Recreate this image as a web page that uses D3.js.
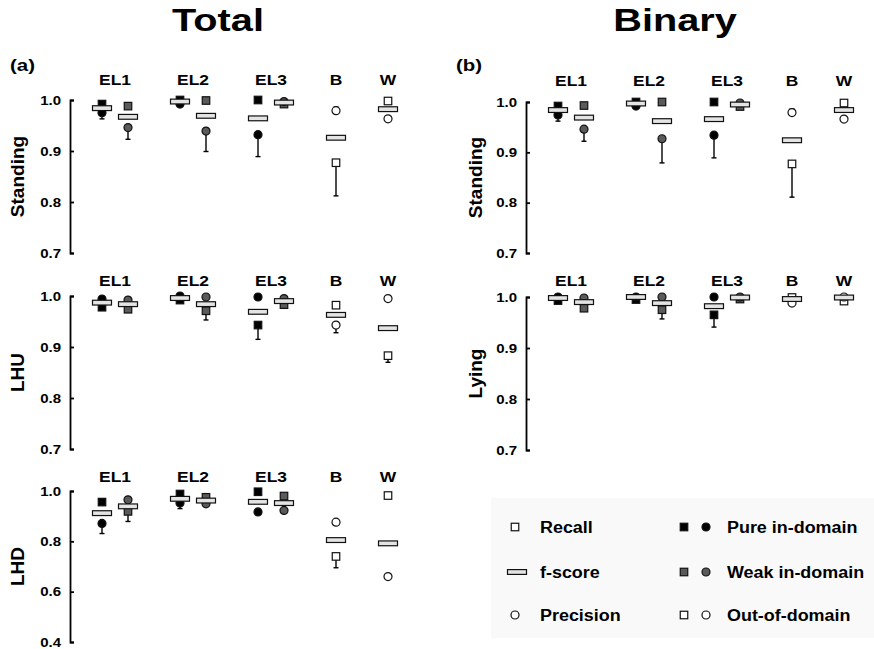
<!DOCTYPE html>
<html>
<head>
<meta charset="utf-8">
<script src="https://cdn.jsdelivr.net/npm/d3@7"></script>
<style>
  html, body { margin: 0; padding: 0; background: #fff; }
  svg { display: block; font-family: "Liberation Sans", Arial, sans-serif; font-weight: bold; }
</style>
</head>
<body>
<div id="chart"></div>
<script>
// ---------------- DATA ----------------
const panelTitles = ["Total", "Binary"];
const panelTags = ["(a)", "(b)"];
const rowLabelsTotal = ["Standing", "LHU", "LHD"];
const rowLabelsBinary = ["Standing", "Lying"];
const columnGroups = ["EL1", "EL1", "EL2", "EL2", "EL3", "EL3", "B", "W"];
const columnDomains = ["Pure in-domain", "Weak in-domain", "Pure in-domain", "Weak in-domain",
                       "Pure in-domain", "Weak in-domain", "Out-of-domain", "Out-of-domain"];
const ticksFine = [0.7, 0.8, 0.9, 1.0];
const ticksLHD = [0.4, 0.6, 0.8, 1.0];

// Total - Standing
const totStandRecall    = [0.992, 0.988, 1.000, 0.999, 1.000, 0.992, 0.877, 0.998];
const totStandFscore    = [0.984, 0.967, 0.997, 0.969, 0.964, 0.995, 0.926, 0.982];
const totStandPrecision = [0.975, 0.946, 0.992, 0.939, 0.932, 0.997, 0.979, 0.963];
const totStandErrLow    = [0.963, 0.923, null, 0.899, 0.889, null, 0.812, null];
const totStandErrHigh   = [null, null, null, null, null, null, 0.986, null];
// Total - LHU
const totLHURecall    = [0.978, 0.974, 0.992, 0.971, 0.943, 0.983, 0.982, 0.883];
const totLHUFscore    = [0.987, 0.984, 0.996, 0.984, 0.969, 0.990, 0.963, 0.937];
const totLHUPrecision = [0.994, 0.992, 1.000, 0.998, 0.998, 0.995, 0.943, 0.995];
const totLHUErrLow    = [null, null, null, 0.953, 0.915, null, 0.928, 0.870];
// Total - LHD
const totLHDRecall    = [0.956, 0.919, 0.988, 0.975, 0.997, 0.980, 0.740, 0.982];
const totLHDFscore    = [0.912, 0.939, 0.969, 0.962, 0.957, 0.952, 0.805, 0.792];
const totLHDPrecision = [0.871, 0.965, 0.952, 0.949, 0.917, 0.923, 0.876, 0.660];
const totLHDErrLow    = [0.831, 0.879, 0.930, null, null, null, 0.695, null];
// Binary - Standing
const binStandRecall    = [0.992, 0.993, 1.000, 1.000, 1.000, 0.991, 0.877, 0.998];
const binStandFscore    = [0.984, 0.969, 0.997, 0.962, 0.966, 0.995, 0.924, 0.984];
const binStandPrecision = [0.974, 0.946, 0.992, 0.927, 0.934, 0.998, 0.979, 0.966];
const binStandErrLow    = [0.962, 0.922, null, 0.879, 0.889, null, 0.811, null];
const binStandErrHigh   = [null, null, null, null, null, null, 0.986, null];
// Binary - Lying
const binLyingRecall    = [0.993, 0.978, 0.995, 0.975, 0.965, 0.996, 0.999, 0.992];
const binLyingFscore    = [0.998, 0.990, 1.000, 0.988, 0.982, 0.999, 0.996, 0.999];
const binLyingPrecision = [1.000, 0.998, 1.000, 1.000, 1.000, 1.000, 0.988, 1.000];
const binLyingErrLow    = [null, null, null, 0.957, 0.941, null, null, null];

const legendMetrics = ["Recall", "f-score", "Precision"];
const legendDomains = ["Pure in-domain", "Weak in-domain", "Out-of-domain"];

// ---------------- LAYOUT / STYLE ----------------
const W = 874, H = 649;
const STRETCH = 1.2;
const domainFill = { "Pure in-domain": "#000000", "Weak in-domain": "#5a5a5a", "Out-of-domain": "#ffffff" };
const groupBase = { EL1: 0, EL2: 3, EL3: 6, B: 9, W: 11 };
const slotCount = {};
const columnSlots = columnGroups.map(g => { const k = slotCount[g] || 0; slotCount[g] = k + 1; return groupBase[g] + k; });

const xA = d3.scaleLinear().domain([0, 11]).range([102, 388]);
const xB = d3.scaleLinear().domain([0, 11]).range([558, 844]);

function series(r, f, p, lo, hi) {
  return columnGroups.map((g, i) => ({
    group: g, domain: columnDomains[i], slot: columnSlots[i],
    recall: r[i], fscore: f[i], precision: p[i],
    errLow: lo ? lo[i] : null, errHigh: hi ? hi[i] : null
  }));
}

const subplots = [
  { x: xA, axisX: 70, range: [253, 100], domain: [0.7, 1.0], ticks: ticksFine, label: rowLabelsTotal[0], labelX: 24, groupBase: 85,
    data: series(totStandRecall, totStandFscore, totStandPrecision, totStandErrLow, totStandErrHigh) },
  { x: xA, axisX: 70, range: [449, 296], domain: [0.7, 1.0], ticks: ticksFine, label: rowLabelsTotal[1], labelX: 24, groupBase: 286,
    data: series(totLHURecall, totLHUFscore, totLHUPrecision, totLHUErrLow) },
  { x: xA, axisX: 70, range: [642, 491], domain: [0.4, 1.0], ticks: ticksLHD, label: rowLabelsTotal[2], labelX: 24, groupBase: 482,
    data: series(totLHDRecall, totLHDFscore, totLHDPrecision, totLHDErrLow) },
  { x: xB, axisX: 526, range: [253, 102], domain: [0.7, 1.0], ticks: ticksFine, label: rowLabelsBinary[0], labelX: 482, groupBase: 86,
    data: series(binStandRecall, binStandFscore, binStandPrecision, binStandErrLow, binStandErrHigh) },
  { x: xB, axisX: 526, range: [450, 297], domain: [0.7, 1.0], ticks: ticksFine, label: rowLabelsBinary[1], labelX: 482, groupBase: 286,
    data: series(binLyingRecall, binLyingFscore, binLyingPrecision, binLyingErrLow) }
];

const svg = d3.select("#chart").append("svg").attr("width", W).attr("height", H);

function stretch(sel, k) {
  sel.each(function () {
    const w = this.getComputedTextLength();
    d3.select(this).attr("textLength", w * k).attr("lengthAdjust", "spacingAndGlyphs");
  });
}

// legend background
svg.append("rect").attr("x", 491).attr("y", 498).attr("width", 383).attr("height", 140).attr("fill", "#f9f9f9");

// panel titles and tags
const titles = svg.selectAll("text.title").data(panelTitles).join("text")
  .attr("class", "title").attr("x", (d, i) => [218, 675][i]).attr("y", 31)
  .attr("text-anchor", "middle").attr("font-size", 32).attr("fill", "#000").text(d => d);
stretch(titles, 1.24);
const tags = svg.selectAll("text.tag").data(panelTags).join("text")
  .attr("class", "tag").attr("x", (d, i) => [10, 456][i]).attr("y", 71)
  .attr("font-size", 17).attr("fill", "#000").text(d => d);
stretch(tags, STRETCH);

const BAR_W = 19, BAR_H = 4.8, SQ = 7.5, CR = 4;

subplots.forEach(sp => {
  const y = d3.scaleLinear().domain(sp.domain).range(sp.range);
  const g = svg.append("g");

  // axis (ticks pointing inward)
  const ax = g.append("g").attr("transform", `translate(${sp.axisX},0)`)
    .call(d3.axisLeft(y).tickValues(sp.ticks).tickFormat(d3.format(".1f"))
      .tickSizeInner(-4).tickSizeOuter(-4).tickPadding(9));
  ax.select(".domain").attr("stroke", "#000").attr("stroke-width", 1.8);
  ax.selectAll(".tick line").attr("stroke", "#000").attr("stroke-width", 1.8);
  ax.selectAll(".tick text").attr("font-size", 12.5).attr("font-weight", "bold")
    .attr("font-family", "'Liberation Sans', Arial, sans-serif").attr("fill", "#000");
  stretch(ax.selectAll(".tick text"), STRETCH);

  // row label
  const mid = (sp.range[0] + sp.range[1]) / 2;
  g.append("text").attr("transform", `translate(${sp.labelX},${mid}) rotate(-90)`)
    .attr("text-anchor", "middle").attr("font-size", 19).attr("fill", "#000").text(sp.label);

  // group labels
  const groups = Array.from(d3.group(sp.data, d => d.group), ([k, v]) => ({ k, xc: d3.mean(v, d => sp.x(d.slot)) }));
  const gl = g.selectAll("text.grp").data(groups).join("text").attr("class", "grp")
    .attr("x", d => d.xc).attr("y", sp.groupBase).attr("text-anchor", "middle")
    .attr("font-size", 14.5).attr("fill", "#000").text(d => d.k);
  stretch(gl, STRETCH);

  const cols = g.selectAll("g.col").data(sp.data).join("g").attr("class", "col")
    .attr("transform", d => `translate(${sp.x(d.slot)},0)`);

  // whiskers
  cols.each(function (d) {
    const c = d3.select(this);
    const lo = Math.min(d.recall, d.precision), hi = Math.max(d.recall, d.precision);
    [[d.errLow, lo], [d.errHigh, hi]].forEach(([end, start]) => {
      if (end == null) return;
      c.append("line").attr("x1", 0).attr("x2", 0).attr("y1", y(start)).attr("y2", y(end))
        .attr("stroke", "#000").attr("stroke-width", 1.4);
      c.append("line").attr("x1", -2.5).attr("x2", 2.5).attr("y1", y(end)).attr("y2", y(end))
        .attr("stroke", "#000").attr("stroke-width", 1.4);
    });
  });

  // recall squares
  cols.append("rect").attr("x", -SQ / 2).attr("y", d => y(d.recall) - SQ / 2)
    .attr("width", SQ).attr("height", SQ)
    .attr("fill", d => domainFill[d.domain]).attr("stroke", "#111").attr("stroke-width", 1.2);
  // precision circles
  cols.append("circle").attr("cx", 0).attr("cy", d => y(d.precision)).attr("r", CR)
    .attr("fill", d => domainFill[d.domain]).attr("stroke", "#111").attr("stroke-width", 1.2);
  // f-score bars
  cols.append("rect").attr("x", -BAR_W / 2).attr("y", d => y(d.fscore) - BAR_H / 2)
    .attr("width", BAR_W).attr("height", BAR_H)
    .attr("fill", "#e4e4e4").attr("stroke", "#111").attr("stroke-width", 1.2);
});

// ---------------- LEGEND ----------------
const rowY = [527, 572, 615];
const lg = svg.append("g");
legendMetrics.forEach((m, i) => {
  const cy = rowY[i];
  if (m === "Recall") {
    lg.append("rect").attr("x", 515 - SQ / 2).attr("y", cy - SQ / 2).attr("width", SQ).attr("height", SQ)
      .attr("fill", "#fff").attr("stroke", "#111").attr("stroke-width", 1.2);
  } else if (m === "f-score") {
    lg.append("rect").attr("x", 517 - BAR_W / 2).attr("y", cy - BAR_H / 2).attr("width", BAR_W).attr("height", BAR_H)
      .attr("fill", "#e4e4e4").attr("stroke", "#111").attr("stroke-width", 1.2);
  } else {
    lg.append("circle").attr("cx", 515).attr("cy", cy).attr("r", CR)
      .attr("fill", "#fff").attr("stroke", "#111").attr("stroke-width", 1.2);
  }
  const t = lg.append("text").attr("x", 540).attr("y", cy + 6).attr("font-size", 16).attr("fill", "#000").text(m);
  stretch(t, 1.12);
});
legendDomains.forEach((dn, i) => {
  const cy = rowY[i];
  lg.append("rect").attr("x", 684 - SQ / 2).attr("y", cy - SQ / 2).attr("width", SQ).attr("height", SQ)
    .attr("fill", domainFill[dn]).attr("stroke", "#111").attr("stroke-width", 1.2);
  lg.append("circle").attr("cx", 706).attr("cy", cy).attr("r", CR)
    .attr("fill", domainFill[dn]).attr("stroke", "#111").attr("stroke-width", 1.2);
  const t = lg.append("text").attr("x", 727).attr("y", cy + 6).attr("font-size", 16).attr("fill", "#000").text(dn);
  stretch(t, 1.12);
});
</script>
</body>
</html>
